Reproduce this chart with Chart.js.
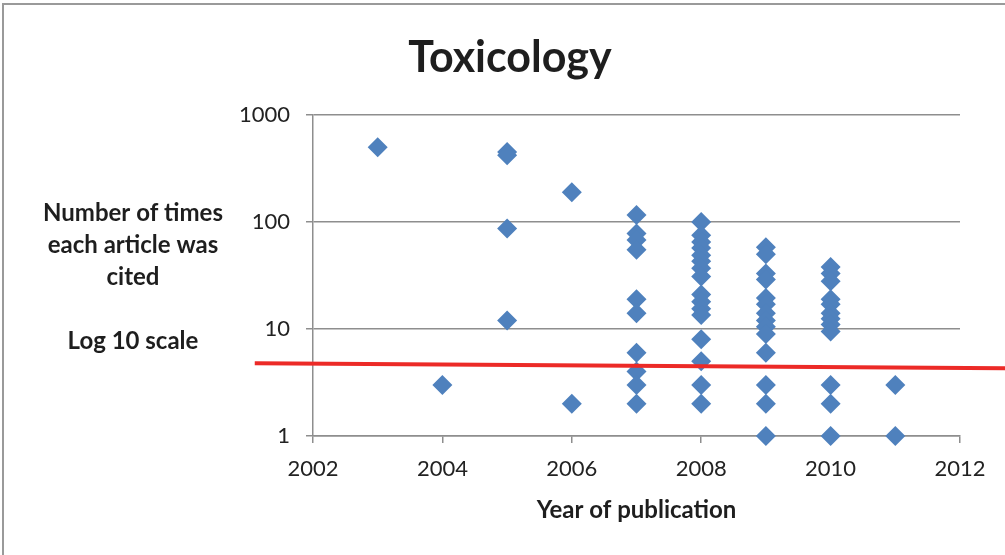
<!DOCTYPE html>
<html>
<head>
<meta charset="utf-8">
<script src="https://cdn.jsdelivr.net/npm/chart.js@4/dist/chart.umd.min.js"></script>
<style>
  html, body { margin: 0; padding: 0; background: #fff; overflow: hidden; }
  #wrap { position: relative; width: 1005px; height: 555px; }
  #frame { position: absolute; left: 2px; top: 3px; width: 1100px; height: 600px;
           border-left: 2px solid #9a9a9a; border-top: 2px solid #9a9a9a; pointer-events: none; }
  canvas { position: absolute; left: 0; top: 0; }
</style>
</head>
<body>
<div id="wrap">
  <canvas id="c" width="1005" height="555"></canvas>
  <div id="frame"></div>
</div>
<script>
// ---- data ----
const chartTitle = 'Toxicology';
const xAxisTitle = 'Year of publication';
const yTitleLines = ['Number of times', 'each article was', 'cited', '', 'Log 10 scale'];
const xTickValues = [2002, 2004, 2006, 2008, 2010, 2012];
const yTickValues = [1, 10, 100, 1000];

const pubYear = [
  2003,
  2004,
  2005, 2005, 2005, 2005,
  2006, 2006,
  2007, 2007, 2007, 2007, 2007, 2007, 2007, 2007, 2007, 2007,
  2008, 2008, 2008, 2008, 2008, 2008, 2008, 2008, 2008, 2008, 2008, 2008, 2008, 2008, 2008, 2008,
  2009, 2009, 2009, 2009, 2009, 2009, 2009, 2009, 2009, 2009, 2009, 2009, 2009, 2009,
  2010, 2010, 2010, 2010, 2010, 2010, 2010, 2010, 2010, 2010, 2010, 2010,
  2011, 2011
];
const timesCited = [
  500,
  3,
  450, 420, 87, 12,
  190, 2,
  116, 78, 68, 55, 19, 14, 6, 4, 3, 2,
  100, 75, 65, 57, 49, 43, 37, 31, 21, 18, 15.5, 13.5, 8, 5, 3, 2,
  58, 50, 33, 29, 19.5, 17, 14, 12, 10.5, 9, 6, 3, 2, 1,
  38, 33, 28, 19, 17, 14, 12.5, 11, 9.5, 3, 2, 1,
  3, 1
];

// red reference line (hand-drawn in the original, extends past the axes)
const refLineX = [2001.1, 2012.7];
const refLineY = [4.78, 4.29];

// ---- build chart ----
const scatterPoints = pubYear.map((x, i) => ({ x: x, y: timesCited[i] }));
const refLinePoints = refLineX.map((x, i) => ({ x: x, y: refLineY[i] }));

const FONT = 'Lato';
const GRID = '#8e8e8e';

const yTitlePlugin = {
  id: 'yTitle',
  afterDraw(chart) {
    const ctx = chart.ctx;
    ctx.save();
    ctx.font = 'bold 24px ' + FONT;
    ctx.fillStyle = '#1e1e1e';
    ctx.textAlign = 'center';
    ctx.textBaseline = 'middle';
    yTitleLines.forEach((t, i) => {
      if (t) ctx.fillText(t, 133, 213 + i * 32);
    });
    ctx.restore();
  }
};

new Chart(document.getElementById('c'), {
  type: 'scatter',
  data: {
    datasets: [
      {
        type: 'line',
        data: refLinePoints,
        borderColor: '#EC2A27',
        borderWidth: 4,
        pointRadius: 0,
        fill: false,
        clip: false
      },
      {
        data: scatterPoints,
        pointStyle: 'rectRot',
        pointRadius: 10,
        pointHoverRadius: 10,
        backgroundColor: '#4F81BD',
        borderColor: '#4F81BD',
        borderWidth: 0,
        clip: false
      }
    ]
  },
  options: {
    responsive: false,
    animation: false,
    devicePixelRatio: 1,
    layout: { padding: { left: 60, right: 45, top: 32, bottom: 0 } },
    plugins: {
      legend: { display: false },
      tooltip: { enabled: false },
      title: {
        display: true,
        text: chartTitle,
        font: { family: FONT, size: 43, weight: 'bold' },
        color: '#1e1e1e',
        padding: { top: 0, bottom: 31.4 }
      }
    },
    scales: {
      x: {
        type: 'linear',
        min: 2002,
        max: 2012,
        afterBuildTicks: s => { s.ticks = xTickValues.map(v => ({ value: v })); },
        afterFit: s => { s.height = 119; },
        grid: { drawOnChartArea: false, drawTicks: true, tickLength: 7, color: GRID, lineWidth: 1.5 },
        border: { display: true, color: GRID, width: 1.5 },
        ticks: { font: { family: FONT, size: 22 }, color: '#222', padding: 13, maxRotation: 0,
                 callback: v => String(v) },
        title: { display: true, text: xAxisTitle, font: { family: FONT, size: 24, weight: 'bold' },
                 color: '#1e1e1e', padding: { top: 0, bottom: 30.6 } }
      },
      y: {
        type: 'logarithmic',
        min: 1,
        max: 1000,
        afterBuildTicks: s => { s.ticks = yTickValues.map(v => ({ value: v })); },
        afterFit: s => { s.width = 253; },
        grid: { drawOnChartArea: true, drawTicks: true, tickLength: 7, color: GRID, lineWidth: 1.5 },
        border: { display: true, color: GRID, width: 1.5 },
        ticks: { font: { family: FONT, size: 22 }, color: '#222', padding: 16,
                 callback: v => String(v) }
      }
    }
  },
  plugins: [yTitlePlugin]
});
</script>
</body>
</html>
